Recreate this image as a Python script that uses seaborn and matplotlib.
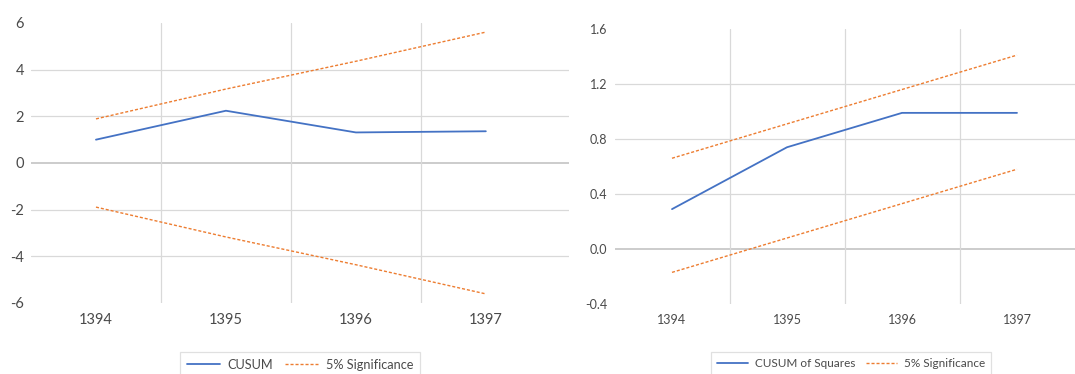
import numpy as np
import matplotlib
matplotlib.use("Agg")
import matplotlib.pyplot as plt
from matplotlib.lines import Line2D
import seaborn as sns

# Stability test results by year
years = ["1394", "1395", "1396", "1397"]
cusum = [1.0, 2.24, 1.31, 1.36]
cusum_upper = [1.89, 3.17, 4.36, 5.61]
cusum_lower = [-1.89, -3.17, -4.36, -5.61]
cusumsq = [0.29, 0.74, 0.99, 0.99]
cusumsq_upper = [0.66, 0.91, 1.16, 1.41]
cusumsq_lower = [-0.17, 0.08, 0.33, 0.58]
left_ticks = [-6, -4, -2, 0, 2, 4, 6]
right_ticks = [-0.4, 0.0, 0.4, 0.8, 1.2, 1.6]

sns.set_theme(style="white")
plt.rcParams["font.family"] = ["Lato", "DejaVu Sans"]

BLUE = "#4472C4"
ORANGE = "#ED7D31"
GRID = "#D9D9D9"
ZERO = "#BFBFBF"
TEXT = "#4A4A4A"
DASH = (0, (2.2, 1.4))

W, H = 1075, 374
fig = plt.figure(figsize=(W / 100, H / 100), dpi=100)


def box(x0, x1, y0, y1):
    return [x0 / W, 1 - y1 / H, (x1 - x0) / W, (y1 - y0) / H]


ax1 = fig.add_axes(box(31, 569, 23, 303))
ax2 = fig.add_axes(box(614.5, 1074.5, 29, 304))

x = np.arange(len(years))


def panel(ax, main, upper, lower, ticks, xlim, fmt, fs, main_label, legend_x, legend_fs):
    ax.set_facecolor("none")
    for v in ticks[1:-1]:
        ax.axhline(v, color=ZERO if v == 0 else GRID, lw=1.1 if v == 0 else 0.9, zorder=0)
    for v in [0.5, 1.5, 2.5]:
        ax.axvline(v, color=GRID, lw=0.9, zorder=0)
    sns.lineplot(x=x, y=upper, ax=ax, color=ORANGE, lw=1.0, linestyle=DASH, legend=False)
    sns.lineplot(x=x, y=lower, ax=ax, color=ORANGE, lw=1.0, linestyle=DASH, legend=False)
    sns.lineplot(x=x, y=main, ax=ax, color=BLUE, lw=1.3, legend=False)
    ax.set_xlim(*xlim)
    ax.set_ylim(ticks[0], ticks[-1])
    ax.set_xticks(x)
    ax.set_xticklabels(years)
    ax.set_yticks(ticks)
    ax.set_yticklabels([fmt(t) for t in ticks])
    ax.tick_params(axis="both", length=0, labelsize=fs, colors=TEXT)
    ax.tick_params(axis="x", pad=7)
    ax.tick_params(axis="y", pad=5)
    for s in ax.spines.values():
        s.set_visible(False)
    ax.grid(False)
    ax.set_xlabel("")
    ax.set_ylabel("")
    handles = [
        Line2D([], [], color=BLUE, lw=1.3),
        Line2D([], [], color=ORANGE, lw=1.0, linestyle=DASH),
    ]
    leg = fig.legend(handles, [main_label, "5% Significance"],
                     loc="upper center", bbox_to_anchor=(legend_x / W, 1 - 346 / H),
                     ncol=2, frameon=True, fancybox=False, fontsize=legend_fs,
                     handlelength=2.6, columnspacing=0.9, handletextpad=0.6,
                     borderpad=0.5, labelcolor=TEXT)
    leg.get_frame().set_edgecolor(GRID)
    leg.get_frame().set_linewidth(0.9)


panel(ax1, cusum, cusum_upper, cusum_lower, left_ticks, (-0.5, 3.64),
      lambda t: f"{t:d}", 10.5, "CUSUM", 300, 9.2)
panel(ax2, cusumsq, cusumsq_upper, cusumsq_lower, right_ticks, (-0.5, 3.5),
      lambda t: f"{t:.1f}", 9, "CUSUM of Squares", 851, 8.5)

fig.savefig("out.png", dpi=100)
